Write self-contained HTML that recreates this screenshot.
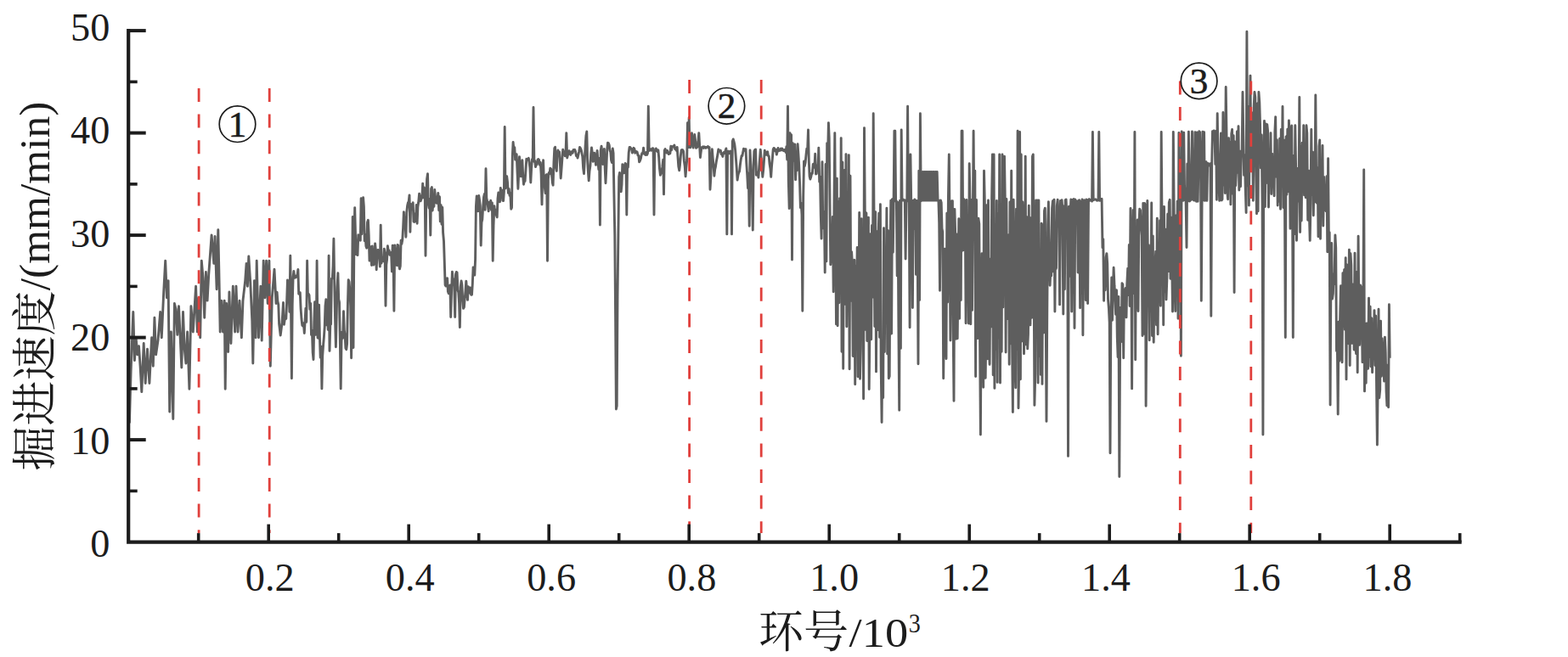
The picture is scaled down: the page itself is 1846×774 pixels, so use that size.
<!DOCTYPE html>
<html><head><meta charset="utf-8"><title>chart</title>
<style>html,body{margin:0;padding:0;background:#fff;overflow:hidden}svg{display:block}</style>
</head><body>
<svg width="1846" height="774" viewBox="0 0 1846 774">
<rect width="1846" height="774" fill="#fff"/>
<path d="M152.4 498.5 L154.1 438.0 L156.8 367.5 L158.4 424.6 L160.1 397.8 L161.8 417.9 L163.5 407.8 L165.1 431.3 L166.8 461.6 L169.2 404.5 L171.2 451.5 L173.5 411.2 L175.9 451.5 L178.6 397.8 L180.3 431.3 L181.9 374.2 L183.6 417.9 L186.0 401.1 L188.7 367.5 L190.3 397.8 L192.7 344.0 L194.7 307.1 L196.4 350.7 L198.1 330.6 L199.7 485.1 L201.4 391.0 L203.8 493.5 L205.4 357.5 L207.1 364.2 L208.8 394.4 L210.5 360.8 L212.2 397.8 L213.8 433.0 L215.5 367.5 L217.2 411.2 L218.9 428.0 L220.6 391.0 L222.9 458.2 L224.9 360.8 L227.3 391.0 L230.6 337.3 L232.3 391.0 L234.0 350.7 L235.7 397.8 L237.3 307.1 L239.0 327.2 L240.7 374.2 L242.4 320.5 L244.1 354.1 L245.7 323.9 L249.1 276.9 L251.8 310.4 L253.1 278.5 L255.1 340.7 L256.8 270.8 L257.8 317.2 L259.2 391.0 L260.8 354.1 L262.5 391.0 L264.2 354.1 L265.2 458.2 L266.6 357.5 L268.6 414.5 L269.9 344.0 L271.9 404.5 L274.3 337.3 L276.6 391.0 L278.0 337.3 L280.0 391.0 L282.0 354.1 L284.4 397.8 L286.0 354.1 L288.7 330.6 L290.1 310.4 L291.4 337.3 L292.8 302.0 L294.8 333.9 L296.8 377.6 L297.8 428.0 L299.5 330.6 L301.1 397.8 L302.2 307.1 L304.5 397.8 L306.9 337.3 L308.2 401.1 L310.2 307.1 L311.9 350.7 L313.6 307.1 L315.2 357.5 L316.9 307.1 L318.3 431.3 L320.3 350.7 L323.0 317.2 L325.0 357.5 L326.1 344.1 L326.9 354.9 L327.8 358.8 L328.6 381.5 L329.4 388.2 L330.2 395.1 L331.0 388.9 L331.9 381.5 L332.7 370.2 L333.5 356.5 L334.4 382.3 L335.2 376.9 L336.0 372.3 L336.8 375.4 L337.6 356.2 L338.5 329.9 L339.3 338.4 L340.1 348.0 L340.9 367.4 L341.8 301.2 L342.6 368.9 L343.4 445.8 L344.2 358.7 L345.1 326.1 L345.9 319.4 L346.7 327.3 L347.5 327.0 L348.4 326.7 L349.2 324.6 L350.0 324.6 L350.9 317.5 L351.7 346.1 L352.5 346.7 L353.3 344.7 L354.1 363.6 L355.0 376.0 L355.8 383.2 L356.6 384.1 L357.4 380.6 L358.3 392.5 L359.1 378.8 L359.9 363.2 L360.8 379.4 L361.6 307.2 L362.4 346.8 L363.2 346.1 L364.0 347.6 L364.9 364.4 L365.7 357.4 L366.5 394.5 L367.4 389.3 L368.2 415.2 L369.0 423.5 L369.8 379.7 L370.6 355.6 L371.5 394.3 L372.3 393.3 L373.1 307.2 L374.0 398.1 L374.8 398.2 L375.6 359.2 L376.4 397.1 L377.2 421.3 L378.1 408.1 L378.9 457.9 L379.7 419.3 L380.6 406.3 L381.4 397.2 L382.2 385.4 L383.0 360.3 L383.8 352.8 L384.7 382.9 L385.5 367.9 L386.3 388.5 L387.1 301.2 L388.0 413.4 L388.8 382.1 L389.6 382.1 L390.4 328.2 L391.3 328.0 L392.1 313.7 L392.9 281.2 L393.8 336.1 L394.6 377.7 L395.4 408.7 L396.2 372.5 L397.0 338.0 L397.9 321.7 L398.7 352.7 L399.5 355.9 L400.4 405.0 L401.2 457.9 L402.0 402.1 L402.8 391.3 L403.6 398.3 L404.5 366.7 L405.3 388.6 L406.1 394.8 L406.9 410.3 L407.8 411.7 L408.6 405.1 L409.4 359.8 L410.2 329.6 L411.1 332.0 L411.9 342.0 L412.7 360.5 L413.6 421.7 L414.4 359.7 L415.2 255.4 L416.0 409.6 L416.9 283.0 L417.7 244.6 L418.5 276.5 L419.3 299.7 L420.1 285.3 L421.0 300.6 L421.8 276.7 L422.6 279.1 L423.4 281.4 L424.3 283.2 L425.1 233.7 L425.9 275.8 L426.8 245.9 L427.6 232.8 L428.4 243.7 L429.2 283.7 L430.1 276.3 L430.9 290.0 L431.7 292.2 L432.5 262.0 L433.4 259.3 L434.2 277.2 L435.0 307.1 L435.8 294.3 L436.6 290.7 L437.5 312.5 L438.3 289.9 L439.1 303.5 L439.9 312.0 L440.8 308.9 L441.6 286.9 L442.4 294.8 L443.2 317.8 L444.1 296.0 L444.9 294.4 L445.7 297.1 L446.5 302.6 L447.4 314.1 L448.2 265.1 L449.0 310.1 L449.8 305.1 L450.7 306.9 L451.5 307.7 L452.3 293.2 L453.1 297.4 L454.0 360.2 L454.8 311.9 L455.6 305.5 L456.4 289.8 L457.3 296.1 L458.1 295.0 L458.9 300.3 L459.8 299.6 L460.6 297.5 L461.4 319.9 L462.2 289.1 L463.1 311.3 L463.9 366.3 L464.7 288.9 L465.5 299.6 L466.3 308.7 L467.2 312.6 L468.0 288.4 L468.8 288.9 L469.6 312.5 L470.5 316.8 L471.3 313.5 L472.1 283.2 L472.9 287.4 L473.8 282.5 L474.6 268.2 L475.4 249.6 L476.2 267.8 L477.1 263.9 L477.9 279.2 L478.7 250.6 L479.6 242.3 L480.4 238.8 L481.2 237.5 L482.0 229.9 L482.9 273.2 L483.7 240.4 L484.5 243.1 L485.3 246.8 L486.2 238.8 L487.0 261.2 L487.8 261.5 L488.6 251.6 L489.4 260.6 L490.3 241.4 L491.1 263.2 L491.9 243.8 L492.7 238.3 L493.6 228.1 L494.4 231.8 L495.2 236.9 L496.0 234.3 L496.9 231.7 L497.7 216.1 L498.5 232.9 L499.3 221.0 L500.2 226.4 L501.0 301.2 L501.8 232.1 L502.6 210.9 L503.5 204.8 L504.3 239.9 L505.1 245.0 L505.9 234.7 L506.8 277.1 L507.6 222.3 L508.4 220.5 L509.2 248.0 L510.1 237.0 L510.9 243.3 L511.7 223.5 L512.5 231.4 L513.4 238.6 L514.2 239.3 L515.0 234.5 L515.8 227.4 L516.7 247.8 L517.5 231.7 L518.3 260.9 L519.1 241.5 L520.0 264.3 L520.8 244.3 L521.6 274.2 L522.5 284.2 L523.3 309.3 L524.1 335.7 L524.9 337.0 L525.8 337.2 L526.6 327.6 L527.4 343.6 L528.2 345.7 L529.0 337.9 L529.9 335.9 L530.7 373.5 L531.5 346.0 L532.4 320.2 L533.2 328.7 L534.0 328.6 L534.8 337.2 L535.7 373.5 L536.5 322.9 L537.3 320.5 L538.1 321.0 L539.0 341.8 L539.8 344.6 L540.6 357.6 L541.4 385.6 L542.2 338.2 L543.1 331.0 L543.9 335.6 L544.7 352.3 L545.5 363.4 L546.4 362.0 L547.2 351.7 L548.0 342.8 L548.8 331.1 L549.7 342.6 L550.5 353.4 L551.3 337.8 L552.1 339.3 L553.0 345.0 L553.8 339.0 L554.6 347.2 L555.5 347.2 L556.3 334.5 L557.1 314.9 L557.9 319.1 L558.8 324.1 L559.6 305.2 L560.4 243.4 L561.2 231.0 L562.0 244.3 L562.9 248.8 L563.7 230.5 L564.5 235.4 L565.3 242.4 L566.2 289.1 L567.0 261.8 L567.8 258.6 L568.6 244.9 L569.5 232.4 L570.3 228.5 L571.1 247.3 L572.0 198.8 L572.8 233.4 L573.6 237.1 L574.4 242.6 L575.2 248.7 L576.1 238.3 L576.9 240.0 L577.7 236.2 L578.5 247.3 L579.4 239.0 L580.2 307.2 L581.0 265.5 L581.9 242.6 L582.7 250.2 L583.5 247.2 L584.3 253.1 L585.2 255.9 L586.0 233.9 L586.8 227.0 L587.6 231.7 L588.5 237.7 L589.3 221.4 L590.1 228.6 L590.9 223.9 L591.8 236.4 L592.6 236.6 L593.4 225.8 L594.2 149.4 L595.0 221.9 L595.9 219.6 L596.7 207.8 L597.5 214.6 L598.4 227.4 L599.2 222.5 L600.0 230.3 L600.8 227.7 L601.7 246.3 L602.5 244.6 L603.3 183.5 L604.1 167.4 L605.0 176.5 L605.8 173.6 L606.6 188.1 L607.4 187.8 L608.2 181.7 L609.1 203.6 L609.9 222.4 L610.7 203.2 L611.5 184.7 L612.4 196.0 L613.2 207.8 L614.0 199.7 L614.9 188.7 L615.7 207.4 L616.5 217.2 L617.3 213.4 L618.1 213.3 L619.0 200.1 L619.8 187.3 L620.6 188.5 L621.4 188.2 L622.3 186.3 L623.1 191.3 L623.9 197.5 L624.8 215.0 L625.6 199.1 L626.4 187.5 L627.2 187.2 L628.0 126.5 L628.9 190.6 L629.7 189.5 L630.5 196.6 L631.3 193.1 L632.2 193.8 L633.0 188.1 L633.8 187.5 L634.6 188.4 L635.5 194.2 L636.3 191.4 L637.1 205.0 L638.0 240.9 L638.8 203.2 L639.6 188.6 L640.4 214.9 L641.2 219.9 L642.1 227.5 L642.9 206.4 L643.7 205.6 L644.5 307.2 L645.4 210.8 L646.2 203.4 L647.0 204.7 L647.8 198.2 L648.7 199.1 L649.5 205.0 L650.3 214.8 L651.1 218.2 L652.0 190.7 L652.8 174.6 L653.6 173.3 L654.5 197.0 L655.3 201.4 L656.1 182.0 L656.9 177.0 L657.8 182.5 L658.6 178.9 L659.4 193.1 L660.2 210.0 L661.0 199.4 L661.9 186.8 L662.7 176.1 L663.5 179.1 L664.3 178.8 L665.2 183.7 L666.0 180.9 L666.8 156.6 L667.7 186.0 L668.5 182.5 L669.3 181.5 L670.1 177.7 L671.0 179.6 L671.8 182.4 L672.6 179.5 L673.4 178.5 L674.2 180.2 L675.1 176.4 L675.9 177.3 L676.7 176.3 L677.5 178.3 L678.4 183.5 L679.2 182.4 L680.0 186.1 L680.8 182.7 L681.7 178.5 L682.5 173.5 L683.3 174.5 L684.2 176.5 L685.0 180.5 L685.8 184.5 L686.6 197.7 L687.5 204.6 L688.3 188.9 L689.1 172.2 L689.9 160.0 L690.8 154.9 L691.6 187.3 L692.4 202.1 L693.2 212.9 L694.0 201.8 L694.9 195.5 L695.7 181.2 L696.5 174.0 L697.3 179.9 L698.2 190.3 L699.0 189.4 L699.8 180.2 L700.7 185.9 L701.5 194.3 L702.3 188.3 L703.1 177.5 L704.0 190.3 L704.8 199.5 L705.6 186.4 L706.4 265.1 L707.2 177.2 L708.1 172.1 L708.9 181.1 L709.7 193.5 L710.5 189.0 L711.4 175.5 L712.2 198.1 L713.0 215.8 L713.9 196.6 L714.7 176.7 L715.5 168.2 L716.3 168.6 L717.2 170.8 L718.0 177.2 L718.8 179.2 L719.6 188.9 L720.5 191.6 L721.3 175.0 L722.1 180.5 L722.9 228.2 L723.8 277.1 L724.6 373.5 L725.4 482.0 L726.2 478.3 L727.0 349.4 L727.9 277.1 L728.7 208.4 L729.5 203.4 L730.3 220.6 L731.2 225.8 L732.0 217.5 L732.8 193.6 L733.6 195.4 L734.5 203.9 L735.3 196.4 L736.1 192.5 L737.0 193.5 L737.8 253.0 L738.6 193.5 L739.4 197.0 L740.2 179.9 L741.1 173.5 L741.9 173.5 L742.7 174.8 L743.5 175.4 L744.4 180.0 L745.2 177.2 L746.0 174.3 L746.8 175.0 L747.7 180.2 L748.5 178.1 L749.3 179.3 L750.1 179.0 L751.0 182.9 L751.8 183.1 L752.6 190.9 L753.5 189.2 L754.3 187.1 L755.1 183.0 L755.9 180.5 L756.8 180.9 L757.6 174.1 L758.4 180.9 L759.2 181.6 L760.0 182.5 L760.9 179.5 L761.7 182.4 L762.5 180.5 L763.3 125.3 L764.2 177.5 L765.0 175.4 L765.8 175.7 L766.7 177.2 L767.5 176.6 L768.3 174.6 L769.1 174.8 L770.0 253.0 L770.8 178.3 L771.6 177.8 L772.4 175.0 L773.2 176.8 L774.1 178.7 L774.9 176.8 L775.7 185.6 L776.5 198.6 L777.4 206.3 L778.2 204.3 L779.0 200.7 L779.8 197.0 L780.7 188.1 L781.5 228.9 L782.3 177.2 L783.2 175.5 L784.0 179.1 L784.8 179.9 L785.6 177.4 L786.5 179.9 L787.3 181.6 L788.1 179.8 L788.9 180.6 L789.8 172.3 L790.6 176.8 L791.4 173.2 L792.2 172.4 L793.0 172.5 L793.9 170.9 L794.7 175.6 L795.5 174.9 L796.3 177.2 L797.2 173.4 L798.0 184.9 L798.8 195.9 L799.7 200.7 L800.5 194.4 L801.3 184.3 L802.1 176.8 L803.0 176.5 L803.8 176.6 L804.6 178.3 L805.4 189.7 L806.2 195.5 L807.1 207.8 L807.9 197.1 L808.7 188.5 L809.5 144.6 L810.4 173.5 L811.2 138.5 L812.0 173.6 L812.9 173.8 L813.7 165.7 L814.5 156.8 L815.3 167.5 L816.2 174.0 L817.0 166.2 L817.8 158.5 L818.6 165.6 L819.5 174.4 L820.3 173.8 L821.1 172.8 L821.9 166.8 L822.8 156.7 L823.6 170.6 L824.4 185.5 L825.2 179.0 L826.0 173.6 L826.9 173.9 L827.7 172.7 L828.5 174.4 L829.3 172.9 L830.2 173.7 L831.0 174.4 L831.8 173.3 L832.6 173.0 L833.5 172.5 L834.3 174.5 L835.1 173.6 L836.0 223.2 L836.8 209.7 L837.6 187.7 L838.4 175.8 L839.2 186.3 L840.1 195.7 L840.9 207.2 L841.7 199.6 L842.5 196.1 L843.4 189.9 L844.2 185.9 L845.0 181.6 L845.8 176.0 L846.7 178.4 L847.5 178.3 L848.3 177.1 L849.1 181.5 L850.0 181.8 L850.8 184.4 L851.6 180.3 L852.5 179.3 L853.3 180.5 L854.1 177.2 L854.9 174.9 L855.8 275.9 L856.6 179.3 L857.4 178.1 L858.2 180.8 L859.0 179.3 L859.9 178.1 L860.7 180.5 L861.5 275.9 L862.3 166.4 L863.2 163.9 L864.0 166.7 L864.8 170.0 L865.7 177.4 L866.5 187.8 L867.3 199.0 L868.1 212.1 L869.0 206.0 L869.8 203.2 L870.6 201.8 L871.4 194.0 L872.2 188.3 L873.1 183.4 L873.9 183.6 L874.7 179.2 L875.5 175.2 L876.4 177.3 L877.2 175.7 L878.0 175.6 L878.8 192.4 L879.7 205.6 L880.5 221.8 L881.3 204.2 L882.2 266.3 L883.0 177.0 L883.8 193.0 L884.6 210.1 L885.5 226.2 L886.3 271.1 L887.1 195.7 L887.9 178.2 L888.8 176.4 L889.6 176.1 L890.4 206.2 L891.2 203.1 L892.0 202.9 L892.9 209.1 L893.7 197.1 L894.5 187.1 L895.3 176.3 L896.2 188.0 L897.0 198.0 L897.8 208.3 L898.7 200.2 L899.5 189.2 L900.3 177.1 L901.1 182.4 L902.0 182.3 L902.8 179.3 L903.6 178.7 L904.4 183.6 L905.2 183.8 L906.1 193.5 L906.9 198.4 L907.7 208.3 L908.5 195.9 L909.4 186.3 L910.2 176.2 L911.0 174.4 L911.9 175.0 L912.7 178.0 L913.5 176.4 L914.3 182.1 L915.2 178.3 L916.0 174.4 L916.8 177.7 L917.6 177.1 L918.5 177.2 L919.3 175.1 L920.1 176.8 L920.9 175.1 L921.8 177.1 L922.6 177.7 L923.4 176.5 L924.2 176.6 L925.0 179.4 L925.9 172.6 L926.7 188.0 L927.5 125.3 L928.3 213.6 L929.2 245.6 L930.0 156.6 L930.8 192.1 L931.6 158.7 L932.5 306.0 L933.3 168.8 L934.1 189.4 L935.0 187.2 L935.8 170.0 L936.6 211.7 L937.4 189.8 L938.2 200.7 L939.1 169.7 L939.9 181.0 L940.7 194.5 L941.5 213.7 L942.4 244.6 L943.2 239.1 L944.0 253.0 L944.8 366.3 L945.7 232.1 L946.5 190.0 L947.3 195.6 L948.1 192.0 L949.0 182.5 L949.8 175.2 L950.6 178.0 L951.5 153.0 L952.3 189.6 L953.1 207.7 L953.9 211.1 L954.8 208.2 L955.6 204.1 L956.4 204.2 L957.2 193.5 L958.0 193.0 L958.9 197.2 L959.7 181.2 L960.5 205.0 L961.3 204.5 L962.2 194.7 L963.0 201.0 L963.8 174.2 L964.7 214.2 L965.5 208.2 L966.3 253.5 L967.1 281.1 L968.0 190.8 L968.8 268.9 L969.6 255.9 L970.4 249.3 L971.2 321.1 L972.1 193.4 L972.9 307.9 L973.7 168.6 L974.5 188.9 L975.4 144.6 L976.2 162.6 L977.0 240.7 L977.8 311.8 L978.7 285.1 L979.5 308.6 L980.3 255.5 L981.2 343.7 L982.0 245.2 L982.8 156.6 L983.6 257.5 L984.5 381.9 L985.3 210.1 L986.1 383.7 L986.9 238.3 L987.8 356.8 L988.6 233.6 L989.4 339.8 L990.2 162.6 L991.0 414.2 L991.9 191.1 L992.7 434.3 L993.5 210.2 L994.3 200.5 L995.2 358.3 L996.0 181.6 L996.8 384.8 L997.7 286.0 L998.5 351.4 L999.3 182.8 L1000.1 434.8 L1001.0 207.2 L1001.8 354.4 L1002.6 296.8 L1003.4 310.0 L1004.2 419.6 L1005.1 325.9 L1005.9 306.3 L1006.7 452.8 L1007.5 313.8 L1008.4 359.7 L1009.2 291.4 L1010.0 443.8 L1010.8 415.7 L1011.7 250.4 L1012.5 446.3 L1013.3 409.7 L1014.2 257.6 L1015.0 387.0 L1015.8 307.9 L1016.6 469.7 L1017.5 150.6 L1018.3 250.6 L1019.1 388.2 L1019.9 251.0 L1020.8 401.5 L1021.6 401.3 L1022.4 256.2 L1023.2 458.5 L1024.0 380.8 L1024.9 275.7 L1025.7 399.7 L1026.5 265.4 L1027.4 350.1 L1028.2 133.7 L1029.0 253.6 L1029.8 384.6 L1030.7 249.7 L1031.5 437.9 L1032.3 272.6 L1033.1 388.8 L1034.0 282.0 L1034.8 251.2 L1035.6 397.4 L1036.4 240.8 L1037.2 431.5 L1038.1 497.6 L1038.9 401.8 L1039.7 468.5 L1040.5 268.6 L1041.4 414.6 L1042.2 293.6 L1043.0 361.5 L1043.9 245.2 L1044.7 416.9 L1045.5 271.8 L1046.3 445.7 L1047.2 443.3 L1048.0 294.8 L1048.8 236.2 L1049.6 393.0 L1050.5 234.6 L1051.3 297.2 L1052.1 237.2 L1052.9 154.2 L1053.8 154.2 L1054.6 237.0 L1055.4 236.7 L1056.2 324.9 L1057.0 238.5 L1057.9 385.6 L1058.7 483.2 L1059.5 236.2 L1060.4 410.4 L1061.2 153.0 L1062.0 233.9 L1062.8 235.9 L1063.7 235.3 L1064.5 236.6 L1065.3 235.8 L1066.1 305.1 L1067.0 236.3 L1067.8 237.0 L1068.6 125.3 L1069.4 235.7 L1070.2 235.4 L1071.1 385.8 L1071.9 181.9 L1072.7 235.8 L1073.6 238.6 L1074.4 362.5 L1075.2 236.2 L1076.0 270.0 L1076.9 235.0 L1077.7 236.5 L1078.5 323.4 L1079.3 236.5 L1080.1 272.7 L1081.0 428.8 L1081.8 201.2 L1082.6 353.5 L1083.4 133.7 L1084.3 236.7 L1085.1 202.4 L1085.9 236.1 L1086.8 202.4 L1087.6 236.1 L1088.4 202.4 L1089.2 236.1 L1090.0 202.4 L1090.9 236.1 L1091.7 202.4 L1092.5 236.1 L1093.3 202.4 L1094.2 236.1 L1095.0 202.4 L1095.8 236.1 L1096.6 202.4 L1097.5 236.1 L1098.3 202.4 L1099.1 236.1 L1099.9 202.4 L1100.8 236.1 L1101.6 202.4 L1102.4 236.1 L1103.2 202.4 L1104.1 236.1 L1104.9 236.0 L1105.7 262.4 L1106.5 342.3 L1107.4 236.0 L1108.2 238.7 L1109.0 269.4 L1109.8 273.3 L1110.7 445.8 L1111.5 366.4 L1112.3 293.2 L1113.1 403.2 L1114.0 422.6 L1114.8 251.2 L1115.6 356.1 L1116.4 235.0 L1117.3 181.9 L1118.1 269.7 L1118.9 401.0 L1119.8 302.0 L1120.6 236.7 L1121.4 236.7 L1122.2 391.0 L1123.0 472.3 L1123.9 246.4 L1124.7 275.3 L1125.5 399.2 L1126.3 275.9 L1127.2 398.8 L1128.0 324.8 L1128.8 257.7 L1129.6 375.2 L1130.5 262.5 L1131.3 353.5 L1132.1 154.2 L1133.0 154.2 L1133.8 295.0 L1134.6 234.5 L1135.4 254.3 L1136.2 235.9 L1137.1 380.8 L1137.9 235.4 L1138.7 344.0 L1139.5 293.1 L1140.4 381.0 L1141.2 192.8 L1142.0 236.9 L1142.8 381.8 L1143.7 235.4 L1144.5 365.4 L1145.3 265.8 L1146.1 154.2 L1147.0 273.0 L1147.8 201.2 L1148.6 443.5 L1149.5 235.5 L1150.3 386.4 L1151.1 398.6 L1151.9 257.3 L1152.8 263.7 L1153.6 402.4 L1154.4 512.1 L1155.2 362.9 L1156.0 298.6 L1156.9 359.4 L1157.7 456.2 L1158.5 201.2 L1159.3 237.5 L1160.2 445.3 L1161.0 378.8 L1161.8 241.6 L1162.6 422.8 L1163.5 235.9 L1164.3 406.6 L1165.1 429.4 L1166.0 305.0 L1166.8 384.9 L1167.6 235.9 L1168.4 181.9 L1169.2 441.7 L1170.1 181.9 L1170.9 457.4 L1171.7 265.0 L1172.5 411.6 L1173.4 236.5 L1174.2 450.4 L1175.0 251.4 L1175.9 397.2 L1176.7 181.9 L1177.5 451.0 L1178.3 290.3 L1179.2 414.3 L1180.0 181.9 L1180.8 361.9 L1181.6 236.0 L1182.5 184.3 L1183.3 236.8 L1184.1 415.0 L1184.9 234.5 L1185.8 374.0 L1186.6 375.5 L1187.4 276.7 L1188.2 429.2 L1189.0 237.9 L1189.9 404.8 L1190.7 201.2 L1191.5 394.4 L1192.4 485.6 L1193.2 235.3 L1194.0 295.6 L1194.8 426.4 L1195.7 456.8 L1196.5 246.3 L1197.3 411.4 L1198.1 154.2 L1199.0 480.8 L1199.8 423.0 L1200.6 155.4 L1201.4 446.8 L1202.2 181.9 L1203.1 401.9 L1203.9 237.9 L1204.7 257.0 L1205.5 416.8 L1206.4 372.9 L1207.2 184.3 L1208.0 405.9 L1208.9 255.8 L1209.7 410.9 L1210.5 393.2 L1211.3 242.2 L1212.2 374.9 L1213.0 382.9 L1213.8 256.4 L1214.6 374.4 L1215.5 184.3 L1216.3 181.9 L1217.1 309.3 L1217.9 477.4 L1218.8 440.5 L1219.6 235.9 L1220.4 379.3 L1221.2 236.0 L1222.1 451.0 L1222.9 236.0 L1223.7 419.5 L1224.5 313.2 L1225.4 441.4 L1226.2 263.3 L1227.0 452.4 L1227.8 265.1 L1228.7 392.0 L1229.5 248.4 L1230.3 245.2 L1231.1 344.6 L1232.0 496.4 L1232.8 365.5 L1233.6 265.1 L1234.4 237.7 L1235.2 283.7 L1236.1 336.2 L1236.9 317.0 L1237.7 324.9 L1238.6 245.7 L1239.4 236.8 L1240.2 319.9 L1241.0 235.1 L1241.9 367.0 L1242.7 276.3 L1243.5 316.4 L1244.3 242.5 L1245.2 235.2 L1246.0 253.6 L1246.8 246.5 L1247.6 358.9 L1248.5 236.5 L1249.3 257.5 L1250.1 235.8 L1250.9 247.0 L1251.8 370.1 L1252.6 243.0 L1253.4 340.8 L1254.2 235.6 L1255.1 235.0 L1255.9 255.9 L1256.7 261.1 L1257.5 537.4 L1258.4 243.3 L1259.2 325.2 L1260.0 255.5 L1260.8 235.0 L1261.7 367.0 L1262.5 235.5 L1263.3 236.1 L1264.1 234.5 L1265.0 386.6 L1265.8 235.0 L1266.6 237.0 L1267.4 236.6 L1268.3 237.3 L1269.1 321.1 L1269.9 236.4 L1270.7 235.7 L1271.6 362.8 L1272.4 237.5 L1273.2 300.8 L1274.0 234.9 L1274.9 394.7 L1275.7 236.2 L1276.5 235.8 L1277.3 237.8 L1278.2 353.6 L1279.0 235.0 L1279.8 235.7 L1280.6 357.6 L1281.5 235.3 L1282.3 234.6 L1283.1 236.2 L1283.9 235.4 L1284.8 236.0 L1285.6 237.0 L1286.4 155.4 L1287.2 235.7 L1288.0 235.3 L1288.9 235.1 L1289.7 234.8 L1290.5 235.2 L1291.3 236.2 L1292.2 236.1 L1293.0 235.7 L1293.8 155.4 L1294.6 236.4 L1295.5 234.4 L1296.3 235.7 L1297.1 234.3 L1298.0 291.8 L1298.8 281.6 L1299.6 354.2 L1300.4 308.0 L1301.2 341.7 L1302.1 303.2 L1302.9 298.6 L1303.7 310.6 L1304.5 352.6 L1305.4 363.3 L1306.2 380.0 L1307.0 533.8 L1307.8 383.4 L1308.7 326.9 L1309.5 377.3 L1310.3 346.5 L1311.1 315.2 L1312.0 336.2 L1312.8 347.7 L1313.6 370.4 L1314.5 341.7 L1315.3 397.2 L1316.1 420.6 L1316.9 349.5 L1317.8 561.5 L1318.6 410.7 L1319.4 362.3 L1320.2 402.6 L1321.0 333.6 L1321.9 335.3 L1322.7 421.7 L1323.5 343.2 L1324.3 342.4 L1325.2 339.4 L1326.0 373.9 L1326.8 334.8 L1327.7 316.2 L1328.5 347.6 L1329.3 288.4 L1330.1 360.5 L1331.0 245.5 L1331.8 302.0 L1332.6 457.9 L1333.4 309.6 L1334.2 247.5 L1335.1 345.6 L1335.9 155.4 L1336.7 423.8 L1337.5 270.0 L1338.4 362.8 L1339.2 259.0 L1340.0 366.6 L1340.8 270.9 L1341.7 246.2 L1342.5 247.6 L1343.3 266.4 L1344.2 277.5 L1345.0 395.5 L1345.8 239.4 L1346.6 393.4 L1347.5 239.5 L1348.3 242.0 L1349.1 478.3 L1349.9 377.5 L1350.8 236.5 L1351.6 342.5 L1352.4 288.7 L1353.2 400.7 L1354.0 291.1 L1354.9 356.2 L1355.7 239.0 L1356.5 395.5 L1357.3 278.0 L1358.2 403.2 L1359.0 341.6 L1359.8 312.6 L1360.7 296.3 L1361.5 382.7 L1362.3 257.1 L1363.1 393.7 L1364.0 299.6 L1364.8 355.4 L1365.6 259.7 L1366.4 360.3 L1367.2 155.4 L1368.1 273.3 L1368.9 258.8 L1369.7 382.7 L1370.5 243.4 L1371.4 343.7 L1372.2 270.1 L1373.0 352.9 L1373.9 327.0 L1374.7 252.3 L1375.5 319.6 L1376.3 238.6 L1377.2 235.3 L1378.0 328.3 L1378.8 256.3 L1379.6 298.6 L1380.5 367.0 L1381.3 155.4 L1382.1 239.0 L1382.9 335.7 L1383.8 366.5 L1384.6 253.9 L1385.4 332.0 L1386.2 236.9 L1387.0 375.3 L1387.9 156.5 L1388.7 235.2 L1389.5 233.5 L1390.4 419.3 L1391.2 154.9 L1392.0 200.1 L1392.8 236.4 L1393.7 156.1 L1394.5 217.7 L1395.3 235.8 L1396.1 236.9 L1397.0 291.6 L1397.8 192.9 L1398.6 236.6 L1399.4 155.1 L1400.2 237.1 L1401.1 236.3 L1401.9 235.7 L1402.7 192.6 L1403.5 154.9 L1404.4 235.1 L1405.2 235.7 L1406.0 236.1 L1406.9 155.8 L1407.7 235.2 L1408.5 237.3 L1409.3 156.0 L1410.2 237.3 L1411.0 191.7 L1411.8 154.7 L1412.6 155.6 L1413.5 191.3 L1414.3 354.2 L1415.1 234.8 L1415.9 155.1 L1416.8 235.8 L1417.6 155.8 L1418.4 236.4 L1419.2 190.9 L1420.1 190.7 L1420.9 236.4 L1421.7 192.5 L1422.5 192.7 L1423.4 194.9 L1424.2 193.1 L1425.0 192.8 L1425.8 372.3 L1426.7 192.5 L1427.5 154.6 L1428.3 155.9 L1429.1 153.9 L1430.0 156.7 L1430.8 193.4 L1431.6 154.5 L1432.4 235.2 L1433.2 133.7 L1434.1 192.9 L1434.9 215.7 L1435.7 236.4 L1436.6 191.4 L1437.4 157.0 L1438.2 236.0 L1439.0 234.7 L1439.9 132.5 L1440.7 218.0 L1441.5 163.3 L1442.3 227.5 L1443.2 102.4 L1444.0 157.6 L1444.8 225.8 L1445.6 234.7 L1446.5 162.6 L1447.3 206.0 L1448.1 167.6 L1448.9 240.9 L1449.8 157.5 L1450.6 152.5 L1451.4 228.3 L1452.2 159.7 L1453.1 344.6 L1453.9 167.0 L1454.7 218.6 L1455.5 202.5 L1456.4 155.0 L1457.2 203.3 L1458.0 148.8 L1458.8 224.0 L1459.7 178.0 L1460.5 219.8 L1461.3 185.4 L1462.1 182.9 L1463.0 108.4 L1463.8 158.8 L1464.6 206.4 L1465.4 182.4 L1466.3 223.8 L1467.1 250.5 L1467.9 37.3 L1468.7 218.8 L1469.6 125.1 L1470.4 242.0 L1471.2 162.6 L1472.0 89.1 L1472.9 195.0 L1473.7 194.8 L1474.5 133.0 L1475.3 236.3 L1476.2 125.0 L1477.0 108.4 L1477.8 114.7 L1478.6 202.4 L1479.5 251.7 L1480.3 122.0 L1481.1 248.7 L1481.9 108.4 L1482.8 120.5 L1483.6 148.5 L1484.4 197.9 L1485.2 158.9 L1486.1 238.9 L1486.9 512.1 L1487.7 207.9 L1488.5 142.5 L1489.4 243.6 L1490.2 146.0 L1491.0 215.5 L1491.8 146.6 L1492.6 154.4 L1493.5 244.0 L1494.3 177.7 L1495.1 216.3 L1496.0 156.7 L1496.8 228.5 L1497.6 181.1 L1498.4 208.4 L1499.2 198.4 L1500.1 230.7 L1500.9 155.1 L1501.7 137.6 L1502.5 208.2 L1503.4 164.7 L1504.2 242.0 L1505.0 189.9 L1505.8 237.4 L1506.7 163.1 L1507.5 246.3 L1508.3 152.4 L1509.1 215.4 L1510.0 125.5 L1510.8 244.6 L1511.6 164.9 L1512.5 243.2 L1513.3 397.6 L1514.1 160.9 L1514.9 229.2 L1515.8 152.3 L1516.6 225.7 L1517.4 141.9 L1518.2 164.8 L1519.0 269.3 L1519.9 152.9 L1520.7 148.0 L1521.5 228.7 L1522.3 397.6 L1523.2 183.1 L1524.0 275.8 L1524.8 147.7 L1525.7 202.0 L1526.5 283.2 L1527.3 238.4 L1528.1 198.1 L1529.0 237.1 L1529.8 114.4 L1530.6 273.5 L1531.4 172.2 L1532.2 260.0 L1533.1 168.2 L1533.9 219.7 L1534.7 147.8 L1535.5 229.9 L1536.4 177.5 L1537.2 232.8 L1538.0 147.8 L1538.8 156.8 L1539.7 259.3 L1540.5 200.9 L1541.3 247.2 L1542.2 283.4 L1543.0 239.0 L1543.8 152.5 L1544.6 229.4 L1545.5 179.1 L1546.3 253.8 L1547.1 201.6 L1547.9 238.0 L1548.8 112.0 L1549.6 204.9 L1550.4 239.2 L1551.2 198.1 L1552.0 278.8 L1552.9 172.3 L1553.7 164.9 L1554.5 281.2 L1555.3 211.6 L1556.2 227.9 L1557.0 171.4 L1557.8 266.1 L1558.7 208.5 L1559.5 247.6 L1560.3 221.4 L1561.1 248.7 L1562.0 207.7 L1562.8 296.8 L1563.6 186.7 L1564.4 284.5 L1565.2 273.8 L1566.1 477.1 L1566.9 324.5 L1567.7 286.4 L1568.5 352.0 L1569.4 345.8 L1570.2 322.7 L1571.0 334.6 L1571.9 276.9 L1572.7 292.1 L1573.5 413.6 L1574.3 400.1 L1575.2 488.0 L1576.0 379.2 L1576.8 425.3 L1577.6 377.1 L1578.5 336.7 L1579.3 419.5 L1580.1 426.8 L1580.9 321.8 L1581.8 384.2 L1582.6 317.8 L1583.4 388.2 L1584.2 303.7 L1585.0 446.9 L1585.9 312.0 L1586.7 328.2 L1587.5 404.7 L1588.4 294.2 L1589.2 430.6 L1590.0 298.8 L1590.8 312.3 L1591.7 404.3 L1592.5 384.5 L1593.3 334.7 L1594.1 412.1 L1595.0 298.1 L1595.8 407.1 L1596.6 416.6 L1597.4 320.4 L1598.2 438.7 L1599.1 278.3 L1599.9 374.2 L1600.7 406.4 L1601.5 335.9 L1602.4 338.3 L1603.2 360.5 L1604.0 426.8 L1604.9 361.9 L1605.7 200.0 L1606.5 460.9 L1607.3 387.4 L1608.2 451.3 L1609.0 381.0 L1609.8 415.0 L1610.6 434.3 L1611.5 351.2 L1612.3 420.6 L1613.1 361.3 L1613.9 431.8 L1614.8 374.9 L1615.6 438.8 L1616.4 397.1 L1617.2 416.2 L1618.0 365.6 L1618.9 430.6 L1619.7 372.2 L1620.5 449.0 L1621.4 524.1 L1622.2 450.1 L1623.0 364.3 L1623.8 468.7 L1624.7 459.3 L1625.5 378.1 L1626.3 443.2 L1627.1 398.6 L1628.0 413.7 L1628.8 433.7 L1629.6 449.1 L1630.4 397.1 L1631.2 414.7 L1632.1 461.5 L1632.9 477.9 L1633.7 429.9 L1634.6 479.8 L1635.4 358.8 L1636.2 421.7" fill="none" stroke="#5e5e5e" stroke-width="2.9" stroke-linejoin="round"/>
<line x1="234.1" y1="104" x2="234.1" y2="628" stroke="#e0403c" stroke-width="2.8" stroke-dasharray="16 14.6"/>
<line x1="317.2" y1="104" x2="317.2" y2="628" stroke="#e0403c" stroke-width="2.8" stroke-dasharray="16 14.6"/>
<line x1="811.6" y1="94" x2="811.6" y2="628" stroke="#e0403c" stroke-width="2.8" stroke-dasharray="16 14.6"/>
<line x1="896.2" y1="94" x2="896.2" y2="628" stroke="#e0403c" stroke-width="2.8" stroke-dasharray="16 14.6"/>
<line x1="1389.3" y1="95.5" x2="1389.3" y2="628" stroke="#e0403c" stroke-width="2.8" stroke-dasharray="16 14.6"/>
<line x1="1472.8" y1="95.5" x2="1472.8" y2="628" stroke="#e0403c" stroke-width="2.8" stroke-dasharray="16 14.6"/>
<path d="M151.2 34.1 V638.6 H1720.7" fill="none" stroke="#1c1c1c" stroke-width="4.2" stroke-linejoin="miter"/>
<line x1="151.2" y1="578.4" x2="161.7" y2="578.4" stroke="#1c1c1c" stroke-width="3.6"/>
<line x1="151.2" y1="518.1" x2="171.7" y2="518.1" stroke="#1c1c1c" stroke-width="4"/>
<line x1="151.2" y1="457.9" x2="161.7" y2="457.9" stroke="#1c1c1c" stroke-width="3.6"/>
<line x1="151.2" y1="397.6" x2="171.7" y2="397.6" stroke="#1c1c1c" stroke-width="4"/>
<line x1="151.2" y1="337.4" x2="161.7" y2="337.4" stroke="#1c1c1c" stroke-width="3.6"/>
<line x1="151.2" y1="277.1" x2="171.7" y2="277.1" stroke="#1c1c1c" stroke-width="4"/>
<line x1="151.2" y1="216.9" x2="161.7" y2="216.9" stroke="#1c1c1c" stroke-width="3.6"/>
<line x1="151.2" y1="156.6" x2="171.7" y2="156.6" stroke="#1c1c1c" stroke-width="4"/>
<line x1="151.2" y1="96.4" x2="161.7" y2="96.4" stroke="#1c1c1c" stroke-width="3.6"/>
<line x1="151.2" y1="36.1" x2="171.7" y2="36.1" stroke="#1c1c1c" stroke-width="4"/>
<line x1="233.7" y1="638.6" x2="233.7" y2="628.1" stroke="#1c1c1c" stroke-width="3.6"/>
<line x1="316.2" y1="638.6" x2="316.2" y2="617.6" stroke="#1c1c1c" stroke-width="3.6"/>
<line x1="398.7" y1="638.6" x2="398.7" y2="628.1" stroke="#1c1c1c" stroke-width="3.6"/>
<line x1="481.2" y1="638.6" x2="481.2" y2="617.6" stroke="#1c1c1c" stroke-width="3.6"/>
<line x1="563.7" y1="638.6" x2="563.7" y2="628.1" stroke="#1c1c1c" stroke-width="3.6"/>
<line x1="646.2" y1="638.6" x2="646.2" y2="617.6" stroke="#1c1c1c" stroke-width="3.6"/>
<line x1="728.7" y1="638.6" x2="728.7" y2="628.1" stroke="#1c1c1c" stroke-width="3.6"/>
<line x1="811.2" y1="638.6" x2="811.2" y2="617.6" stroke="#1c1c1c" stroke-width="3.6"/>
<line x1="893.7" y1="638.6" x2="893.7" y2="628.1" stroke="#1c1c1c" stroke-width="3.6"/>
<line x1="976.2" y1="638.6" x2="976.2" y2="617.6" stroke="#1c1c1c" stroke-width="3.6"/>
<line x1="1058.7" y1="638.6" x2="1058.7" y2="628.1" stroke="#1c1c1c" stroke-width="3.6"/>
<line x1="1141.2" y1="638.6" x2="1141.2" y2="617.6" stroke="#1c1c1c" stroke-width="3.6"/>
<line x1="1223.7" y1="638.6" x2="1223.7" y2="628.1" stroke="#1c1c1c" stroke-width="3.6"/>
<line x1="1306.2" y1="638.6" x2="1306.2" y2="617.6" stroke="#1c1c1c" stroke-width="3.6"/>
<line x1="1388.7" y1="638.6" x2="1388.7" y2="628.1" stroke="#1c1c1c" stroke-width="3.6"/>
<line x1="1471.2" y1="638.6" x2="1471.2" y2="617.6" stroke="#1c1c1c" stroke-width="3.6"/>
<line x1="1553.7" y1="638.6" x2="1553.7" y2="628.1" stroke="#1c1c1c" stroke-width="3.6"/>
<line x1="1636.2" y1="638.6" x2="1636.2" y2="617.6" stroke="#1c1c1c" stroke-width="3.6"/>
<line x1="1718.7" y1="638.6" x2="1718.7" y2="628.1" stroke="#1c1c1c" stroke-width="3.6"/>
<text x="129.3" y="656.3" text-anchor="end" style="font-family:'Liberation Serif',serif;font-size:46.3px;fill:#1c1c1c">0</text>
<text x="129.3" y="534.7" text-anchor="end" style="font-family:'Liberation Serif',serif;font-size:46.3px;fill:#1c1c1c">10</text>
<text x="129.3" y="412.6" text-anchor="end" style="font-family:'Liberation Serif',serif;font-size:46.3px;fill:#1c1c1c">20</text>
<text x="129.3" y="291.0" text-anchor="end" style="font-family:'Liberation Serif',serif;font-size:46.3px;fill:#1c1c1c">30</text>
<text x="129.3" y="169.0" text-anchor="end" style="font-family:'Liberation Serif',serif;font-size:46.3px;fill:#1c1c1c">40</text>
<text x="129.3" y="48.0" text-anchor="end" style="font-family:'Liberation Serif',serif;font-size:46.3px;fill:#1c1c1c">50</text>
<text x="317.7" y="696.0" text-anchor="middle" style="font-family:'Liberation Serif',serif;font-size:46.3px;fill:#1c1c1c">0.2</text>
<text x="482.8" y="696.0" text-anchor="middle" style="font-family:'Liberation Serif',serif;font-size:46.3px;fill:#1c1c1c">0.4</text>
<text x="649.1" y="696.0" text-anchor="middle" style="font-family:'Liberation Serif',serif;font-size:46.3px;fill:#1c1c1c">0.6</text>
<text x="814.4" y="696.0" text-anchor="middle" style="font-family:'Liberation Serif',serif;font-size:46.3px;fill:#1c1c1c">0.8</text>
<text x="982.1" y="696.0" text-anchor="middle" style="font-family:'Liberation Serif',serif;font-size:46.3px;fill:#1c1c1c">1.0</text>
<text x="1136.7" y="696.0" text-anchor="middle" style="font-family:'Liberation Serif',serif;font-size:46.3px;fill:#1c1c1c">1.2</text>
<text x="1302.0" y="696.0" text-anchor="middle" style="font-family:'Liberation Serif',serif;font-size:46.3px;fill:#1c1c1c">1.4</text>
<text x="1478.6" y="696.0" text-anchor="middle" style="font-family:'Liberation Serif',serif;font-size:46.3px;fill:#1c1c1c">1.6</text>
<text x="1633.5" y="696.0" text-anchor="middle" style="font-family:'Liberation Serif',serif;font-size:46.3px;fill:#1c1c1c">1.8</text>
<circle cx="279.5" cy="146.2" r="21.3" fill="#fff" fill-opacity="0" stroke="#1c1c1c" stroke-width="1.7"/>
<text x="279.5" y="160.79999999999998" text-anchor="middle" style="font-family:'Liberation Serif',serif;font-size:43px;fill:#1c1c1c;stroke:#1c1c1c;stroke-width:0.6px">1</text>
<circle cx="855.4" cy="124.8" r="21.3" fill="#fff" fill-opacity="0" stroke="#1c1c1c" stroke-width="1.7"/>
<text x="855.4" y="139.4" text-anchor="middle" style="font-family:'Liberation Serif',serif;font-size:43px;fill:#1c1c1c;stroke:#1c1c1c;stroke-width:0.6px">2</text>
<circle cx="1411.6" cy="95.4" r="21.3" fill="#fff" fill-opacity="0" stroke="#1c1c1c" stroke-width="1.7"/>
<text x="1411.6" y="110.0" text-anchor="middle" style="font-family:'Liberation Serif',serif;font-size:43px;fill:#1c1c1c;stroke:#1c1c1c;stroke-width:0.6px">3</text>
<g role="img" aria-label="环号/10³"><title>环号/10³</title>
<text x="893.0" y="763.0" style="font-family:'Liberation Serif','Noto Serif CJK SC',serif;font-size:53px;fill:#1c1c1c">环号</text>
<text transform="translate(999.6 762.0) scale(1.10 1)" x="0" y="0" style="font-family:'Liberation Serif',serif;font-size:49.5px;fill:#1c1c1c">/10</text>
<text transform="translate(1069.8 744.8) scale(0.92 1)" x="0" y="0" style="font-family:'Liberation Serif',serif;font-size:30.5px;fill:#1c1c1c">3</text>
</g>
<g transform="translate(59.6 0) rotate(-90)" role="img" aria-label="掘进速度/(mm/min)"><title>掘进速度/(mm/min)</title>
<text x="-554.5" y="0" style="font-family:'Liberation Serif','Noto Serif CJK SC',serif;font-size:53px;fill:#1c1c1c">掘进速度</text>
<text transform="translate(-342.2 -1.6) scale(1.007 1)" x="0" y="0" style="font-family:'Liberation Serif',serif;font-size:51px;fill:#1c1c1c">/(mm/min)</text>
</g>
</svg>
</body></html>
